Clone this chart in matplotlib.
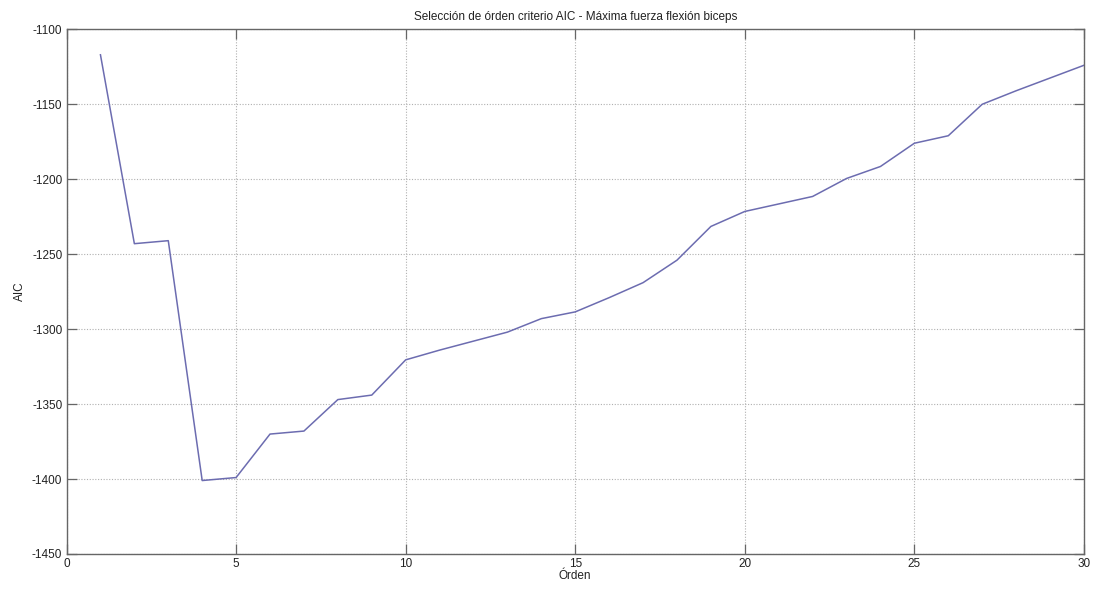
import matplotlib
matplotlib.use("Agg")
import matplotlib.pyplot as plt

orden = list(range(1, 31))
aic = [-1117, -1243, -1241, -1401, -1399, -1370, -1368, -1347, -1344, -1320.5,
       -1314, -1308, -1302, -1293, -1288.5, -1279, -1269, -1254, -1231.5, -1221.5,
       -1216.5, -1211.5, -1199.5, -1191.5, -1176, -1171, -1150, -1141, -1132.5, -1124]

xticks = [0, 5, 10, 15, 20, 25, 30]
yticks = [-1450, -1400, -1350, -1300, -1250, -1200, -1150, -1100]

plt.rcParams['font.family'] = ['Liberation Sans', 'DejaVu Sans']
plt.rcParams['axes.unicode_minus'] = False

fig = plt.figure(figsize=(10.98, 5.92), dpi=100)
ax = fig.add_axes([0.0606, 0.0642, 0.9266, 0.8863])

ax.plot(orden, aic, color='#6c6cb0', linewidth=1.1)

ax.set_xlim(0, 30)
ax.set_ylim(-1450, -1100)
ax.set_xticks(xticks)
ax.set_yticks(yticks)
ax.grid(True, linestyle=(0, (1, 1.5)), color='#b0b0b0', linewidth=0.8)

for s in ax.spines.values():
    s.set_color('#666666')
    s.set_linewidth(1.0)

ax.tick_params(direction='in', length=7, width=0.9, color='#666666',
               labelsize=8.5, labelcolor='#222222', top=True, right=True, pad=3)

ax.set_title('Selección de órden criterio AIC - Máxima fuerza flexión biceps',
             fontsize=8.5, color='#222222', pad=7)
ax.set_xlabel('Órden', fontsize=8.5, color='#222222', labelpad=0)
ax.set_ylabel('AIC', fontsize=8.5, color='#222222', labelpad=4)

fig.savefig('out.png', dpi=100, facecolor='white')
